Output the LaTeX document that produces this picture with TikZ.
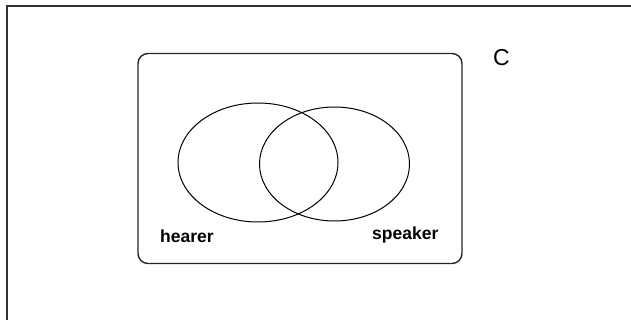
\documentclass[tikz,border=0pt]{standalone}
\usepackage{fontspec}
\setmainfont{Liberation Sans}
\usetikzlibrary{shapes.geometric}
\begin{document}
\begin{tikzpicture}[x=1pt,y=-1pt,
  frameline/.style={draw=black!80,line width=2pt},
  boxline/.style={draw=black!85,line width=1.4pt,rounded corners=10pt},
  setline/.style={draw=black,line width=1pt},
  setlabel/.style={font=\fontsize{17.5}{19}\selectfont\bfseries,inner sep=0pt,anchor=base west}]
\useasboundingbox (0,0) rectangle (631,320);
\fill[white] (0,0) rectangle (631,320);
\coordinate (fa) at (631,6.5);
\coordinate (fb) at (6.5,6.5);
\coordinate (fc) at (6.5,320);
\draw[frameline] (fa) -- (fb) -- (fc);
\node[boxline,minimum width=324pt,minimum height=210pt,inner sep=0pt] (u) at (300,158.5) {};
\node[setline,ellipse,minimum width=160pt,minimum height=119pt,inner sep=0pt] (h) at (258,162.5) {};
\node[setline,ellipse,minimum width=150pt,minimum height=114pt,inner sep=0pt] (s) at (334.5,164) {};
\node[setlabel] (hl) at (160,243) {hearer};
\node[setlabel] (sl) at (372,240) {speaker};
\node[font=\fontsize{23}{25}\selectfont,inner sep=0pt,anchor=base west] (c) at (493,66) {C};
\end{tikzpicture}
\end{document}
